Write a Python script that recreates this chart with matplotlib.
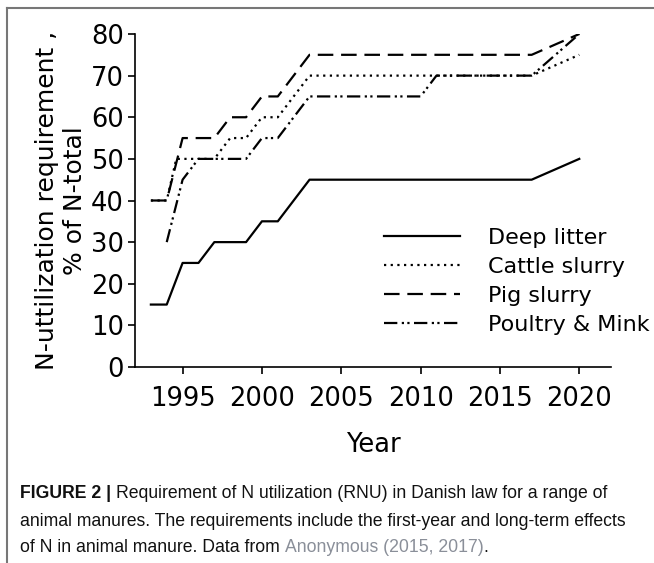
import matplotlib
matplotlib.use("Agg")
import matplotlib.pyplot as plt
from matplotlib.lines import Line2D

# data
deep_years = [1993, 1994, 1995, 1996, 1997, 1999, 2000, 2001, 2003, 2017, 2020]
deep_vals = [15, 15, 25, 25, 30, 30, 35, 35, 45, 45, 50]

cattle_years = [1993, 1994, 1994.6, 1997, 1998, 1999, 2000, 2001, 2003, 2017, 2020]
cattle_vals = [40, 40, 50, 50, 55, 55, 60, 60, 70, 70, 75]

pig_years = [1993, 1994, 1995, 1997, 1998, 1999, 2000, 2001, 2003, 2017, 2020]
pig_vals = [40, 40, 55, 55, 60, 60, 65, 65, 75, 75, 80]

poultry_years = [1994, 1995, 1996, 1999, 2000, 2001, 2003, 2010, 2011, 2017, 2020]
poultry_vals = [30, 45, 50, 50, 55, 55, 65, 65, 70, 70, 80]

x_ticks = [1995, 2000, 2005, 2010, 2015, 2020]
y_ticks = [0, 10, 20, 30, 40, 50, 60, 70, 80]

W, H = 654, 563
fig = plt.figure(figsize=(W / 100, H / 100), dpi=100)

# plot area in pixels: left 135, right 611, top 34, bottom 367
ax = fig.add_axes([135 / W, (H - 367) / H, (611 - 135) / W, (367 - 34) / H])

lw = 1.6
ax.plot(deep_years, deep_vals, color="black", lw=lw, ls="-", label="Deep litter")
ax.plot(cattle_years, cattle_vals, color="black", lw=lw, ls=(0, (1, 2)), label="Cattle slurry")
ax.plot(pig_years, pig_vals, color="black", lw=lw, ls=(0, (7, 3.5)), label="Pig slurry")
ax.plot(poultry_years, poultry_vals, color="black", lw=lw, ls=(0, (6, 2, 1, 1.5, 1, 2)), label="Poultry & Mink")

ax.set_xlim(1992, 2022)
ax.set_ylim(0, 80)
ax.set_xticks(x_ticks)
ax.set_yticks(y_ticks)
ax.spines["top"].set_visible(False)
ax.spines["right"].set_visible(False)
for s in ("left", "bottom"):
    ax.spines[s].set_linewidth(1.2)
ax.tick_params(labelsize=18.5, length=5, width=1.2)
ax.tick_params(axis="x", pad=9)
ax.tick_params(axis="y", pad=3)
ax.set_xlabel("Year", fontsize=18.5, labelpad=14)
ax.set_ylabel("N-uttilization requirement ,\n% of N-total", fontsize=18, labelpad=3,
              linespacing=1.2)

ax.legend(loc="upper left", bbox_to_anchor=((384 - 135) / (611 - 135), (367 - 228) / (367 - 34)),
          frameon=False, fontsize=16, borderaxespad=0, borderpad=0,
          handlelength=3.4, handletextpad=1.3, labelspacing=0.4)

# page frame
fig.add_artist(Line2D([7 / W, 7 / W], [0, 1 - 8 / H], transform=fig.transFigure,
                      color="#777777", lw=1.5))
fig.add_artist(Line2D([7 / W, 1], [1 - 8 / H, 1 - 8 / H], transform=fig.transFigure,
                      color="#777777", lw=1.5))

# caption
cap_font = dict(family="Liberation Sans", fontsize=12.7, color="#111111")
fig.canvas.draw()
r = fig.canvas.get_renderer()

x0 = 20 / W
y1 = 1 - 493 / H
t = fig.text(x0, y1, "FIGURE 2 | ", fontweight="bold", va="center", **cap_font)
bb = t.get_window_extent(r)
fig.text(bb.x1 / W, y1, "Requirement of N utilization (RNU) in Danish law for a range of",
         va="center", **cap_font)
fig.text(x0, 1 - 521 / H,
         "animal manures. The requirements include the first-year and long-term effects",
         va="center", **cap_font)
t = fig.text(x0, 1 - 547 / H, "of N in animal manure. Data from ", va="center", **cap_font)
bb = t.get_window_extent(r)
t2 = fig.text(bb.x1 / W, 1 - 547 / H, "Anonymous (2015, 2017)", va="center",
              family="Liberation Sans", fontsize=12.7, color="#8a8f99")
bb = t2.get_window_extent(r)
fig.text(bb.x1 / W, 1 - 547 / H, ".", va="center", **cap_font)

fig.savefig("out.png", dpi=100)
